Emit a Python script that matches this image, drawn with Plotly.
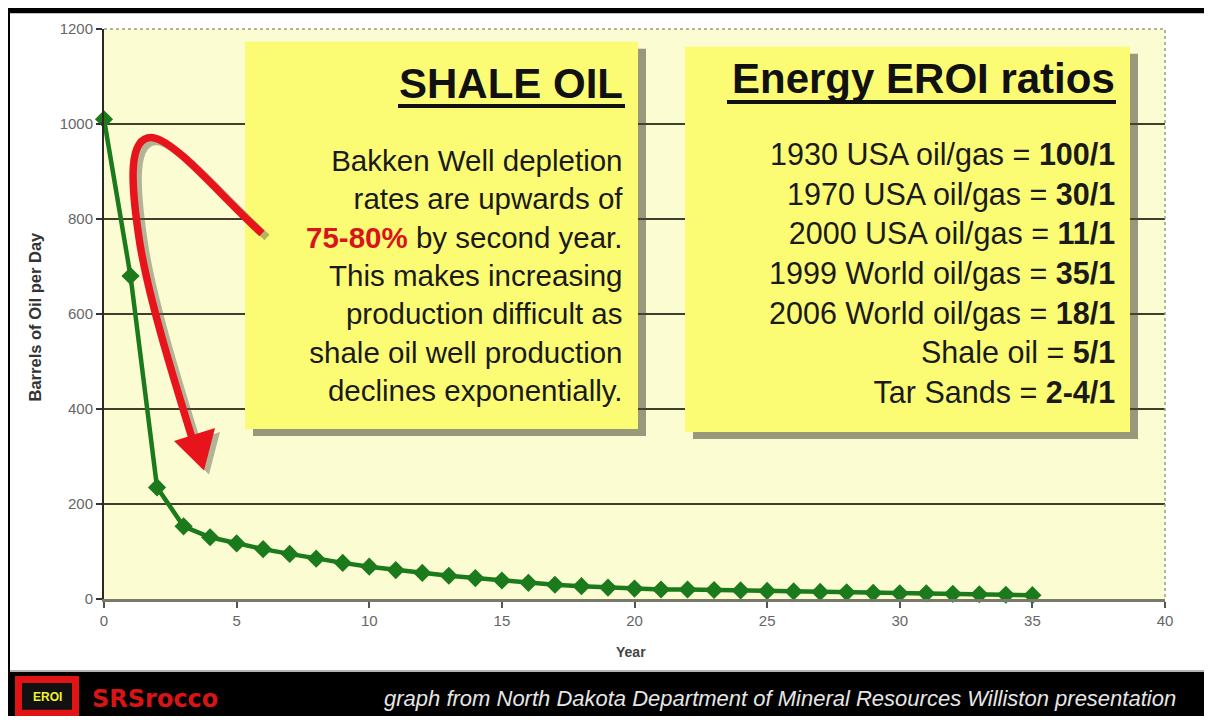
import plotly.graph_objects as go

# Bakken well decline curve
years = list(range(0, 36))
barrels = [1010, 680, 235, 153, 130, 117, 105, 95, 85, 76,
           68, 61, 55, 49, 44, 39, 34, 30, 27, 24,
           22, 20, 20, 19, 18, 17, 16, 15, 14, 13,
           12, 12, 11, 10, 9, 8]

x_ticks = [0, 5, 10, 15, 20, 25, 30, 35, 40]
y_ticks = [0, 200, 400, 600, 800, 1000, 1200]
grid_y = [200, 400, 600, 800, 1000]

shale_lines = [
    "Bakken Well depletion",
    "rates are upwards of",
    "<span style='color:#d8141c'><b>75-80%</b></span> by second year.",
    "This makes increasing",
    "production difficult as",
    "shale oil well production",
    "declines exponentially.",
]
eroi_labels = ["1930 USA oil/gas", "1970 USA oil/gas", "2000 USA oil/gas",
               "1999 World oil/gas", "2006 World oil/gas", "Shale oil", "Tar Sands"]
eroi_ratios = ["100/1", "30/1", "11/1", "35/1", "18/1", "5/1", "2-4/1"]

FONT = "Liberation Sans, Arial, sans-serif"
# the page body has an 8px margin on each side
OFF = 8
W, H = 1212, 724
L, R, T, B = 104, 1165, 22, 599


def px(x):
    return (x - L) / (R - L)


def py(y):
    return (B - y) / (B - T)


def rect(x0, y0, x1, y1, color, layer="above"):
    return dict(type="rect", xref="paper", yref="paper",
                x0=px(x0), x1=px(x1), y0=py(y1), y1=py(y0),
                fillcolor=color, line=dict(width=0), layer=layer)


def hline(x0, x1, y, color, width):
    return dict(type="line", xref="paper", yref="paper",
                x0=px(x0), x1=px(x1), y0=py(y), y1=py(y),
                line=dict(color=color, width=width), layer="above")


def path(cmds):
    out = []
    for c in cmds:
        if isinstance(c, str):
            out.append(c)
        else:
            out.append(f"{px(c[0]):.5f},{py(c[1]):.5f}")
    return " ".join(out)


def shift(cmds, dx, dy):
    return [c if isinstance(c, str) else (c[0] + dx, c[1] + dy) for c in cmds]


fig = go.Figure()

fig.add_trace(go.Scatter(
    x=years, y=barrels,
    mode="lines+markers",
    line=dict(color="#1b7a1b", width=4.5),
    marker=dict(symbol="diamond", size=14, color="#1b7a1b"),
    cliponaxis=False,
    showlegend=False,
))

shapes = []
# frame bands
shapes.append(rect(0, 0, W, 6, "black"))
shapes.append(rect(0, 0, 10, H, "black"))
shapes.append(rect(0, 673, W, H, "black"))
shapes.append(hline(10, W, 672, "#9a9a9a", 1.5))

# grid lines
for g in grid_y:
    shapes.append(dict(type="line", xref="paper", yref="y", x0=0, x1=1, y0=g, y1=g,
                       line=dict(color="#3f3f2c", width=1.8), layer="below"))
# dotted top/right border
shapes.append(dict(type="path", xref="paper", yref="paper",
                   path="M 0,1 L 1,1 L 1,0", line=dict(color="#9a9a8a", width=1.5, dash="dot"),
                   layer="below"))

# text boxes with shadow
shapes.append(rect(253, 42, 646, 434, "rgba(70,70,50,0.55)"))
shapes.append(rect(245, 35, 638, 427, "#fcfc74"))
shapes.append(rect(693, 47, 1138, 437, "rgba(70,70,50,0.55)"))
shapes.append(rect(685, 40, 1130, 430, "#fcfc74"))

# title underlines
shapes.append(hline(398, 625, 100, "#111111", 4))
shapes.append(hline(727, 1116, 96, "#111111", 4))

# red curved arrow (shadow then arrow)
arrow_cmds = ["M", (262, 229), "C", (220, 190), (175, 135), (153, 132),
              "C", (128, 130), (130, 175), (140, 240),
              "C", (150, 300), (175, 380), (192, 436)]
head_cmds = ["M", (174, 439), "L", (215, 426), "L", (204, 469), "Z"]

shapes.append(dict(type="path", xref="paper", yref="paper", path=path(shift(arrow_cmds, 5, 4)),
                   line=dict(color="rgba(90,90,80,0.45)", width=7.5), layer="above"))
shapes.append(dict(type="path", xref="paper", yref="paper", path=path(shift(head_cmds, 5, 4)),
                   fillcolor="rgba(90,90,80,0.45)", line=dict(width=0), layer="above"))
shapes.append(dict(type="path", xref="paper", yref="paper", path=path(arrow_cmds),
                   line=dict(color="#e8141c", width=7.5), layer="above"))
shapes.append(dict(type="path", xref="paper", yref="paper", path=path(head_cmds),
                   fillcolor="#e8141c", line=dict(width=0), layer="above"))

# logo
shapes.append(rect(15, 677, 79, 718, "#e01414"))
shapes.append(rect(22, 684, 72, 711, "#111111"))

annotations = [
    dict(text="<b>SHALE OIL</b>", x=px(625), y=py(77), xanchor="right", yanchor="middle",
         font=dict(family=FONT, size=42, color="#111111")),
    dict(text="<b>Energy EROI ratios</b>", x=px(1117), y=py(72), xanchor="right", yanchor="middle",
         font=dict(family=FONT, size=42, color="#111111")),
    dict(text="<br>".join(shale_lines), x=px(625), y=py(272), xanchor="right", yanchor="middle",
         align="right", font=dict(family=FONT, size=29.5, color="#1a1a1a")),
    dict(text="<br>".join(f"{a} = <b>{b}</b>" for a, b in zip(eroi_labels, eroi_ratios)),
         x=px(1117), y=py(269), xanchor="right", yanchor="middle",
         align="right", font=dict(family=FONT, size=30.5, color="#1a1a1a")),
    dict(text="<b>Barrels of Oil per Day</b>", x=px(35), y=py(313), textangle=-90,
         xanchor="center", yanchor="middle", font=dict(family=FONT, size=16.5, color="#333333")),
    dict(text="<b>Year</b>", x=px(631), y=py(653), xanchor="center", yanchor="middle",
         font=dict(family=FONT, size=14, color="#444444")),
    dict(text="<i>graph from North Dakota Department of Mineral Resources Williston presentation</i>",
         x=px(382), y=py(700), xanchor="left", yanchor="middle",
         font=dict(family=FONT, size=22, color="#e6e6e6")),
    dict(text="<b>SRSrocco</b>", x=px(90), y=py(700), xanchor="left", yanchor="middle",
         font=dict(family="DejaVu Sans, sans-serif", size=24, color="#d81414")),
    dict(text="<b>EROI</b>", x=px(47), y=py(698), xanchor="center", yanchor="middle",
         font=dict(family=FONT, size=12, color="#f2f22a")),
]
for a in annotations:
    a.update(xref="paper", yref="paper", showarrow=False)

fig.update_layout(
    width=W - OFF, height=H - 2 * OFF,
    margin=dict(l=L - OFF, r=W - R, t=T - OFF, b=H - OFF - B),
    paper_bgcolor="white",
    plot_bgcolor="#fcfcd2",
    shapes=shapes,
    annotations=annotations,
    xaxis=dict(range=[0, 40], tickvals=x_ticks, showgrid=False, zeroline=False,
               showline=True, linecolor="#7a7a6a", linewidth=2.5,
               ticks="outside", ticklen=6, tickcolor="#555555", tickwidth=1.5,
               tickfont=dict(family=FONT, size=15, color="#666666")),
    yaxis=dict(range=[0, 1200], tickvals=y_ticks, showgrid=False, zeroline=False,
               showline=True, linecolor="#2a2a20", linewidth=2,
               ticks="outside", ticklen=6, tickcolor="#333333", tickwidth=1.5,
               tickfont=dict(family=FONT, size=15, color="#666666")),
)

fig.write_html("out.html")
